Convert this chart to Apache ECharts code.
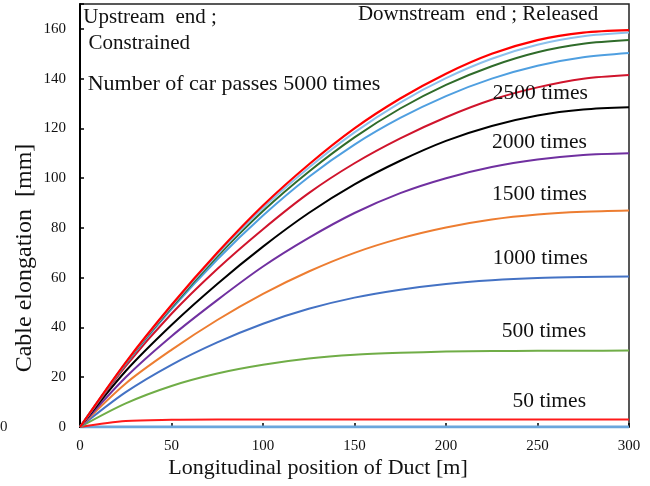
<!DOCTYPE html>
<html>
<head>
<meta charset="utf-8">
<title>Cable elongation along duct</title>
<script src="https://cdn.jsdelivr.net/npm/echarts@6/dist/echarts.min.js"></script>
<style>
  html, body { margin: 0; padding: 0; background: #fff; }
  #chart { width: 650px; height: 486px; }
</style>
</head>
<body>
<div id="chart"></div>
<script>
// Longitudinal position along the duct [m]
const positions = [0, 25, 50, 75, 100, 125, 150, 175, 200, 225, 250, 275, 300];

// Cable elongation [mm] for each number of car passes
const passes5000 = [0, 26, 49, 70, 89, 105.5, 120, 132, 142, 150, 155.5, 158.5, 159.5];
const passes4500 = [0, 25.8, 48.6, 69.3, 88, 104.2, 118.4, 130.4, 140.2, 148, 153.6, 157, 158.5];
const passes4000 = [0, 25.6, 48.1, 68.5, 86.8, 102.6, 116.4, 128, 137.5, 145, 150.6, 154, 155.5];
const passes3500 = [0, 25.3, 47.4, 67.3, 85, 100.5, 113.5, 124.2, 133, 140, 145.2, 148.6, 150.3];
const passes3000 = [0, 24.5, 45.5, 63.5, 79.5, 94, 106, 116, 124.5, 131.5, 136.5, 140, 141.5];
const passes2500 = [0, 22.5, 41, 57.5, 72.5, 86, 97.5, 107, 115, 121, 125.2, 127.6, 128.5];
const passes2000 = [0, 20, 36.5, 51, 64.5, 76, 86, 94, 100, 104.5, 107.5, 109.3, 110];
const passes1500 = [0, 17.5, 31, 43, 53.5, 62.5, 70, 75.8, 80.2, 83.4, 85.4, 86.5, 87];
const passes1000 = [0, 14, 25, 34, 41.5, 47.5, 52, 55.2, 57.5, 59, 59.9, 60.3, 60.5];
const passes500 = [0, 9.5, 16.5, 21.5, 25, 27.5, 29, 29.8, 30.3, 30.5, 30.6, 30.6, 30.7];
const passes50 = [0, 2.4, 2.9, 3, 3, 3, 3, 3, 3, 3, 3, 3, 3];
const passes0 = [0, 0, 0, 0, 0, 0, 0, 0, 0, 0, 0, 0, 0];

// Axis ticks
const xTicks = [0, 50, 100, 150, 200, 250, 300];
const yTicks = [0, 20, 40, 60, 80, 100, 120, 140, 160];

// Curve labels and notes: text with its anchor in data units
const notes = [
  { text: 'Upstream  end ;', x: 1.8, y: 164.6, align: 'left', size: 21 },
  { text: ' Constrained', x: 1.8, y: 154.2, align: 'left', size: 21 },
  { text: 'Downstream  end ; Released', x: 217.5, y: 165.6, align: 'center', size: 21 },
  { text: 'Number of car passes 5000 times', x: 4.2, y: 137.6, align: 'left', size: 22 },
  { text: '2500 times', x: 277.5, y: 134, align: 'right', size: 21.5 },
  { text: '2000 times', x: 277, y: 114.3, align: 'right', size: 21.5 },
  { text: '1500 times', x: 277, y: 93.4, align: 'right', size: 21.5 },
  { text: '1000 times', x: 277.5, y: 67.6, align: 'right', size: 21.5 },
  { text: '500 times', x: 276.5, y: 38.6, align: 'right', size: 21.5 },
  { text: '50 times', x: 276.5, y: 10.5, align: 'right', size: 21.5 }
];

const FONT = '"Liberation Serif", "Times New Roman", serif';

const curves = [
  { name: '0 times', data: passes0, color: '#6aa6dc', width: 3 },
  { name: '50 times', data: passes50, color: '#ff1a1a', width: 2 },
  { name: '500 times', data: passes500, color: '#70ad47', width: 2 },
  { name: '1000 times', data: passes1000, color: '#4472c4', width: 2 },
  { name: '1500 times', data: passes1500, color: '#ed7d31', width: 2 },
  { name: '2000 times', data: passes2000, color: '#7030a0', width: 2 },
  { name: '2500 times', data: passes2500, color: '#000000', width: 2 },
  { name: '3000 times', data: passes3000, color: '#d0142c', width: 2 },
  { name: '3500 times', data: passes3500, color: '#4f9fe0', width: 2 },
  { name: '4000 times', data: passes4000, color: '#2f6b2a', width: 2 },
  { name: '4500 times', data: passes4500, color: '#8cc0ec', width: 2 },
  { name: '5000 times', data: passes5000, color: '#ff0000', width: 2.2 }
];

const chart = echarts.init(document.getElementById('chart'), null, { renderer: 'canvas' });

const grid = { left: 80, right: 21, top: 4, bottom: 59 };

chart.setOption({
  animation: false,
  backgroundColor: '#ffffff',
  grid: Object.assign({ show: true, borderColor: '#222', borderWidth: 1.5, backgroundColor: 'transparent' }, grid),
  xAxis: {
    type: 'value',
    min: 0,
    max: 300,
    interval: 50,
    axisLine: { show: true, onZero: false, lineStyle: { color: '#000', width: 1.5 } },
    axisTick: { show: true, inside: true, length: 4, lineStyle: { color: '#000', width: 1.5 } },
    axisLabel: {
      margin: 12, color: '#111', fontFamily: FONT, fontSize: 15,
      formatter: v => (xTicks.indexOf(v) >= 0 ? String(v) : '')
    },
    splitLine: { show: false }
  },
  yAxis: {
    type: 'value',
    min: 0,
    max: 170,
    interval: 20,
    axisLine: { show: true, onZero: false, lineStyle: { color: '#000', width: 2 } },
    axisTick: { show: true, inside: true, length: 4, lineStyle: { color: '#000', width: 1.5 } },
    axisLabel: {
      margin: 14, color: '#111', fontFamily: FONT, fontSize: 15,
      formatter: v => (yTicks.indexOf(v) >= 0 ? String(v) : '')
    },
    splitLine: { show: false }
  },
  series: curves.map(c => ({
    name: c.name,
    type: 'line',
    data: positions.map((x, i) => [x, c.data[i]]),
    smooth: 0.3,
    showSymbol: false,
    symbol: 'none',
    clip: true,
    lineStyle: { color: c.color, width: c.width },
    itemStyle: { color: c.color }
  }))
});

// Notes and axis titles are placed through the chart's own coordinate conversion
const graphics = notes.map(n => {
  const p = chart.convertToPixel({ gridIndex: 0 }, [n.x, n.y]);
  return {
    type: 'text',
    x: p[0],
    y: p[1],
    style: {
      text: n.text,
      font: n.size + 'px ' + FONT,
      fill: '#111',
      align: n.align,
      verticalAlign: 'middle'
    },
    z: 50
  };
});

graphics.push({
  type: 'text',
  x: 318,
  y: 468,
  style: {
    text: 'Longitudinal position of Duct [m]',
    font: '22px ' + FONT, fill: '#111', align: 'center', verticalAlign: 'middle'
  }
});
graphics.push({
  type: 'text',
  x: 25,
  y: 258,
  rotation: Math.PI / 2,
  style: {
    text: 'Cable elongation  [mm]',
    font: '24px ' + FONT, fill: '#111', align: 'center', verticalAlign: 'middle'
  }
});
// Stray zero at the left margin
graphics.push({
  type: 'text',
  x: 0,
  y: 427,
  style: { text: '0', font: '15px ' + FONT, fill: '#222', align: 'left', verticalAlign: 'middle' }
});

chart.setOption({ graphic: graphics });
</script>
</body>
</html>
